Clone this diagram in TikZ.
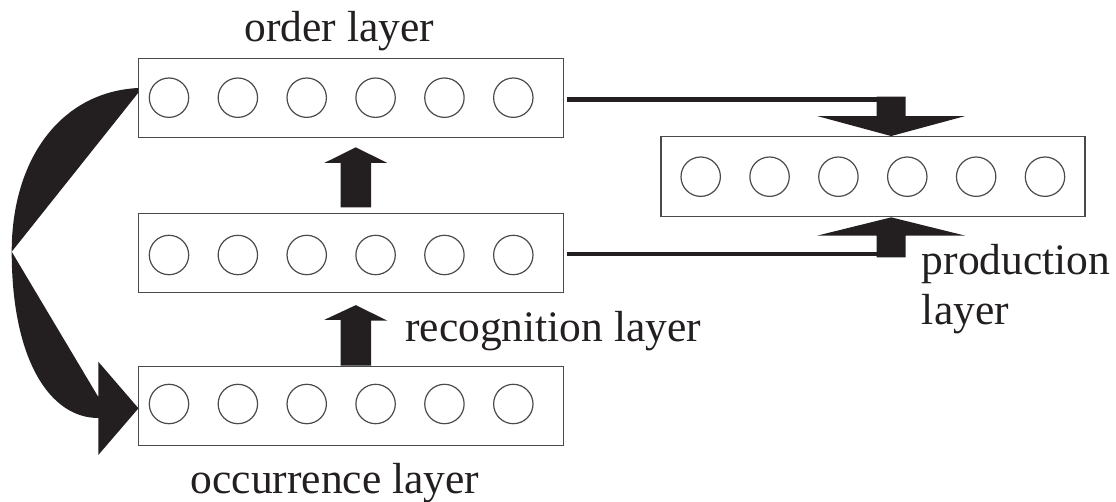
\documentclass[tikz,border=0pt]{standalone}
\usepackage{fontspec}
\setmainfont{Liberation Serif}
\usetikzlibrary{calc}
\definecolor{inkblack}{HTML}{231F20}
\definecolor{edgegray}{HTML}{4A4A4A}
\begin{document}
\begin{tikzpicture}[x=1pt,y=-1pt,
  layerbox/.style={draw=edgegray, line width=1.3pt, minimum width=425pt,
    minimum height=79pt, inner sep=0pt},
  unit/.style={draw=edgegray, line width=1.2pt, circle, minimum size=39.4pt,
    inner sep=0pt},
  caption/.style={font=\fontsize{43.5}{50}\selectfont, inner sep=0pt,
    text=inkblack},
  feed/.style={draw=inkblack, line width=4.5pt},
  solid ink/.style={fill=inkblack, draw=none}]

\useasboundingbox (0,0) rectangle (1116,502);

% the four layers
\node[layerbox] (order) at (350.8,97.8) {};
\node[layerbox] (recog) at (350.8,252.8) {};
\node[layerbox] (occur) at (350.8,405.8) {};
\node[layerbox, minimum width=424pt, minimum height=80pt] (prod) at (873,176.7) {};

% six units in every layer
\foreach \i in {0,...,5} {
  \node[unit] (ord\i) at (169+68.86*\i, 97.7) {};
  \node[unit] (rec\i) at (169+68.86*\i, 255) {};
  \node[unit] (occ\i) at (169+68.86*\i, 404) {};
  \node[unit] (pro\i) at (700.7+68.86*\i, 176.7) {};
}

% layer names
\node[caption, anchor=base] (orderLbl) at (339.2,41.7) {order layer};
\node[caption, anchor=base west] (recogLbl) at (405,341.7) {recognition layer};
\node[caption, anchor=base] (occurLbl) at (335,493.3) {occurrence layer};
\node[caption, anchor=base west] (prodLbl) at (921.7,275) {production};
\node[caption, anchor=base west] (prodLblB) at (921.7,325) {layer};

% block arrows between the stacked layers
\coordinate (liftA) at ($(order.south)+(5,9.4)$);
\fill[solid ink] (liftA) -- ++(31.5,15.6) -- ++(-16.2,0) -- ++(0,44.4)
  -- ++(-30.6,0) -- ++(0,-44.4) -- ++(-16.2,0) -- cycle;
\coordinate (liftB) at ($(recog.south)+(5,12.2)$);
\fill[solid ink] (liftB) -- ++(31.5,15.5) -- ++(-16.2,0) -- ($(occur.north)+(20.3,0)$)
  -- ++(-30.6,0) -- ++(0,-45.8) -- ++(-16.2,0) -- cycle;

% order layer feeding the production layer from above
\coordinate (feedA) at ($(order.east)+(3.4,1.7)$);
\coordinate (tipA) at ($(prod.north)+(18.2,0)$);
\draw[feed] (feedA) -- (feedA -| tipA);
\fill[solid ink] (tipA) -- ++(74,-20) -- ++(-59.5,0) -- ++(0,-19.4)
  -- ++(-29,0) -- ++(0,19.4) -- ++(-59.5,0) -- cycle;

% recognition layer feeding the production layer from below
\coordinate (feedB) at ($(recog.east)+(3.4,1.4)$);
\coordinate (tipB) at ($(prod.south)+(18.2,0)$);
\draw[feed] (feedB) -- (feedB -| tipB);
\fill[solid ink] (tipB) -- ++(74,18.3) -- ++(-59.5,0) -- ++(0,21.7)
  -- ++(-29,0) -- ++(0,-21.7) -- ++(-59.5,0) -- cycle;

% curved return from the order layer to the occurrence layer
\coordinate (loopTop) at ($(order.west)+(0.6,-9.8)$);
\coordinate (loopTopIn) at ($(order.west)+(0.6,-5)$);
\coordinate (loopTurn) at (11.7,251.7);
\coordinate (loopTip) at ($(occur.west)+(0.8,2.5)$);
\fill[solid ink] (loopTop) .. controls (60,92) and (11.7,160) .. (loopTurn)
  -- (loopTopIn) -- cycle;
\fill[solid ink] (loopTurn) .. controls (11.7,360) and (50,418) .. (98.3,418)
  -- (98.3,455) -- (loopTip) -- (98.3,361.7) -- (98.3,397) -- cycle;
\end{tikzpicture}
\end{document}
